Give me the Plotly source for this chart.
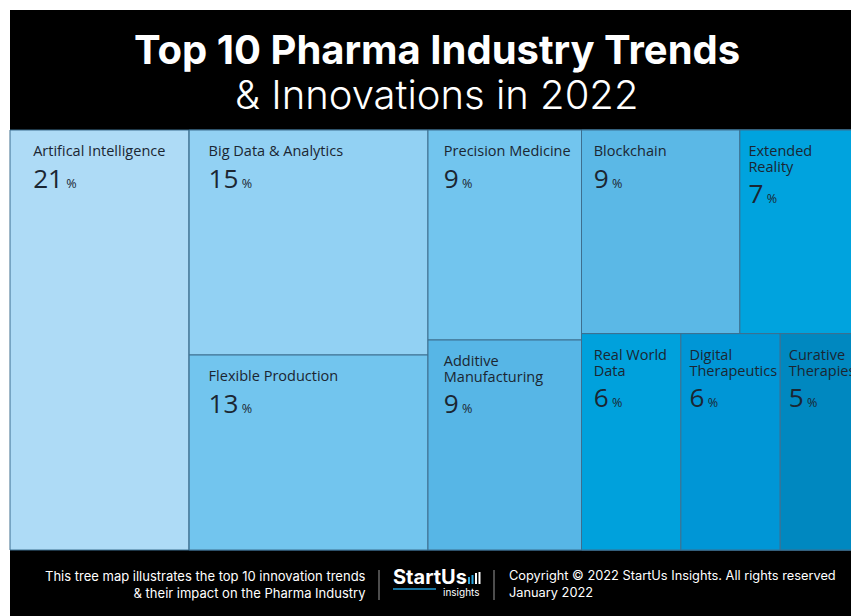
import plotly.graph_objects as go

# ---------------- data ----------------
trend_lines = [
    ["Artifical Intelligence"],
    ["Big Data & Analytics"],
    ["Flexible Production"],
    ["Precision Medicine"],
    ["Additive", "Manufacturing"],
    ["Blockchain"],
    ["Extended", "Reality"],
    ["Real World", "Data"],
    ["Digital", "Therapeutics"],
    ["Curative", "Therapies"],
]
shares = [21, 15, 13, 9, 9, 9, 7, 6, 6, 5]
tile_parent = ["root", "g1", "g1", "g2", "g2", "g3a", "g3a", "g3b", "g3b", "g3b"]
group_ids = ["g1", "g2", "g3", "g3a", "g3b"]
group_parent = ["root", "root", "root", "g3", "g3"]

title_line1 = "Top 10 Pharma Industry Trends"
title_line2 = "& Innovations in 2022"
footer_left = "This tree map illustrates the top 10 innovation trends<br>& their impact on the Pharma Industry"
footer_right = "Copyright © 2022 StartUs Insights. All rights reserved<br>January 2022"

# ---------------- styles ----------------
tile_colors = ["#aedbf6", "#92d1f3", "#72c5ee", "#72c5ee", "#57b6e6",
               "#5bb8e6", "#00a3de", "#00a1dc", "#0096d6", "#0088c0"]
text_indent = [4, 3, 3, 2, 2, 1, 0, 1, 0, 0]   # extra non-breaking spaces per tile

# ---------------- figure geometry ----------------
W, H = 863, 616
def px(x):
    return x / W
def py(y):
    return 1 - y / H

# ---------------- build hierarchy ----------------
ids, parents, values, colors, texts = [], [], [], [], []
for i, lines in enumerate(trend_lines):
    ids.append(f"t{i}")
    parents.append(tile_parent[i])
    values.append(shares[i])
    colors.append(tile_colors[i])
    pre = "<span style='font-size:22px'>\u00a0</span>"
    if text_indent[i]:
        pre += f"<span style='font-size:14.5px'>{'\u00a0' * text_indent[i]}</span>"
    lab = "<br>".join(f"{pre}<span style='font-size:15px'>{l}</span>" for l in lines)
    val = (f"{pre}<span style='font-size:27px'>{shares[i]}</span>"
           f"<span style='font-size:13px'> %</span>")
    texts.append(lab + "<br><br>" + val)

def subtotal(node):
    s = 0
    for i, p in enumerate(tile_parent):
        if p == node:
            s += shares[i]
    for j, p in enumerate(group_parent):
        if p == node:
            s += subtotal(group_ids[j])
    return s

for j, g in enumerate(group_ids):
    ids.append(g)
    parents.append(group_parent[j])
    values.append(subtotal(g))
    colors.append("rgba(0,0,0,0)")
    texts.append("")

ids.append("root")
parents.append("")
values.append(sum(shares))
colors.append("rgba(0,0,0,0)")
texts.append("")

fig = go.Figure(go.Treemap(
    ids=ids, parents=parents, values=values, labels=ids,
    branchvalues="total", sort=False,
    text=texts, textinfo="text", textposition="top left",
    textfont=dict(family="Open Sans", size=12.5, color="#1b2632"),
    marker=dict(colors=colors, line=dict(color="#3d6f8f", width=1),
                pad=dict(t=0, l=0, r=0, b=0)),
    tiling=dict(packing="slice-dice", pad=0),
    pathbar=dict(visible=False),
    root=dict(color="rgba(0,0,0,0)"),
    hoverinfo="skip",
    domain=dict(x=[px(10), 1], y=[py(550), py(130)]),
))

shapes = [
    dict(type="rect", xref="paper", yref="paper", x0=px(10), x1=1, y0=py(130), y1=py(10),
         fillcolor="black", line=dict(width=0), layer="below"),
    dict(type="rect", xref="paper", yref="paper", x0=px(10), x1=1, y0=0, y1=py(550),
         fillcolor="black", line=dict(width=0), layer="below"),
    dict(type="line", xref="paper", yref="paper", x0=px(379), x1=px(379), y0=py(570), y1=py(600),
         line=dict(color="#9a9a9a", width=1)),
    dict(type="line", xref="paper", yref="paper", x0=px(494), x1=px(494), y0=py(570), y1=py(600),
         line=dict(color="#9a9a9a", width=1)),
    dict(type="line", xref="paper", yref="paper", x0=px(393), x1=px(436), y0=py(589), y1=py(589),
         line=dict(color="#1e9ad6", width=1.5)),
]
bar_x = [468, 471.5, 475, 478.5]
bar_h = [7, 9, 11, 12]
bar_c = ["#2aa6e0", "#2aa6e0", "#ffffff", "#ffffff"]
for bx, bh, bc in zip(bar_x, bar_h, bar_c):
    shapes.append(dict(type="rect", xref="paper", yref="paper", x0=px(bx), x1=px(bx + 2),
                       y0=py(584), y1=py(584 - bh), fillcolor=bc, line=dict(width=0)))

annotations = [
    dict(text=f"<b>{title_line1}</b>", x=px(437), y=py(49), xref="paper", yref="paper",
         xanchor="center", yanchor="middle", showarrow=False,
         font=dict(family="Inter", size=40, color="white")),
    dict(text=title_line2, x=px(437), y=py(94), xref="paper", yref="paper",
         xanchor="center", yanchor="middle", showarrow=False,
         font=dict(family="Inter", size=40, color="white", weight=300)),
    dict(text=footer_left, x=px(368), y=py(584), xref="paper", yref="paper",
         xanchor="right", yanchor="middle", align="right", showarrow=False,
         font=dict(family="Inter", size=13, color="white")),
    dict(text=footer_right, x=px(507), y=py(584), xref="paper", yref="paper",
         xanchor="left", yanchor="middle", align="left", showarrow=False,
         font=dict(family="Inter", size=12.8, color="white")),
    dict(text="<b>StartUs</b>", x=px(391), y=py(577), xref="paper", yref="paper",
         xanchor="left", yanchor="middle", showarrow=False,
         font=dict(family="Inter", size=20, color="white")),
    dict(text="insights", x=px(482), y=py(592), xref="paper", yref="paper",
         xanchor="right", yanchor="middle", showarrow=False,
         font=dict(family="Inter", size=10, color="white")),
]

fig.update_layout(
    width=W, height=H,
    margin=dict(l=0, r=0, t=0, b=0),
    paper_bgcolor="white", plot_bgcolor="white",
    shapes=shapes, annotations=annotations,
    uniformtext=dict(minsize=12, mode="show"),
    showlegend=False,
)

fig.write_html("out.html", config={"displayModeBar": False},
               post_script="document.documentElement.style.overflow='hidden';document.body.style.overflow='hidden';document.body.style.margin='0';")
